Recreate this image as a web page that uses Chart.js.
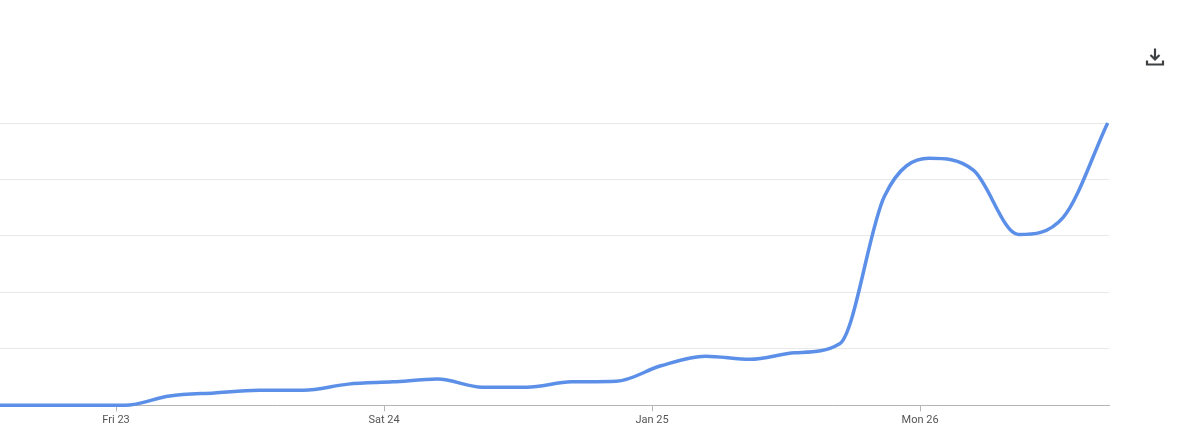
<!DOCTYPE html>
<html lang="en">
<head>
  <meta charset="UTF-8">
  <title>Interest over time</title>
  <script src="https://cdn.jsdelivr.net/npm/chart.js"></script>
  <style>
    html, body { margin: 0; padding: 0; background: #fff; overflow: hidden; }
    .chart-box { position: relative; width: 1199px; height: 448px; }
    .download { position: absolute; left: 1143px; top: 45px; width: 24px; height: 24px; }
  </style>
</head>
<body>

  <div class="chart-box">
    <canvas id="trendChart"></canvas>
    <!-- download icon -->
    <svg class="download" viewBox="0 0 24 24" aria-label="Download">
      <path d="M12 3.5v10.5M7.5 10l4.5 4.5 4.5-4.5M4 15.5v4h16v-4" fill="none" stroke="#3c4043" stroke-width="2.2"/>
    </svg>
  </div>

  <script>
    // hours since Fri 23 00:00
    const hours = [-11.2, -7.2, -3.2, 0.8, 4.8, 8.8, 12.8, 16.8, 20.8, 24.8, 28.8, 32.8, 36.8,
      40.8, 44.8, 48.8, 52.8, 56.8, 60.8, 64.8, 68.8, 72.8, 76.8, 80.8, 84.8, 88.8];
    const interest = [0, 0, 0, 0, 3.3, 4.4, 5.3, 5.3, 7.5, 8.3, 9.3, 6.4, 6.4,
      8.3, 8.5, 14, 17.4, 16.3, 18.6, 21.8, 74, 87.5, 83.2, 60.5, 66.5, 100];
    const tickHours = [0, 24, 48, 72];
    const tickLabels = ['Fri 23', 'Sat 24', 'Jan 25', 'Mon 26'];
    const gridValues = [0, 20, 40, 60, 80, 100];

    new Chart(document.getElementById('trendChart'), {
      type: 'line',
      data: {
        datasets: [{
          data: hours.map((h, i) => ({ x: h, y: interest[i] })),
          borderColor: '#5c90e8',
          borderWidth: 3.5,
          pointRadius: 0,
          cubicInterpolationMode: 'monotone',
          clip: false
        }]
      },
      options: {
        responsive: true,
        maintainAspectRatio: false,
        animation: false,
        layout: { padding: { top: 123, right: 90, left: 0, bottom: 19.5 } },
        plugins: { legend: { display: false }, tooltip: { enabled: false } },
        scales: {
          x: {
            type: 'linear',
            min: -10.39,
            max: 88.92,
            afterBuildTicks: axis => { axis.ticks = tickHours.map(v => ({ value: v })); },
            grid: { drawOnChartArea: false, tickLength: 6, tickColor: '#b5b5b5' },
            border: { color: '#b5b5b5', width: 1 },
            ticks: {
              autoSkip: false,
              maxRotation: 0,
              padding: 2,
              color: '#555555',
              font: { family: 'Roboto', size: 11 },
              callback: v => tickLabels[tickHours.indexOf(v)]
            }
          },
          y: {
            min: 0,
            max: 100,
            afterBuildTicks: axis => { axis.ticks = gridValues.map(v => ({ value: v })); },
            grid: { color: '#e8e8e8', drawTicks: false },
            border: { display: false },
            ticks: { display: false }
          }
        }
      }
    });
  </script>

</body>
</html>
